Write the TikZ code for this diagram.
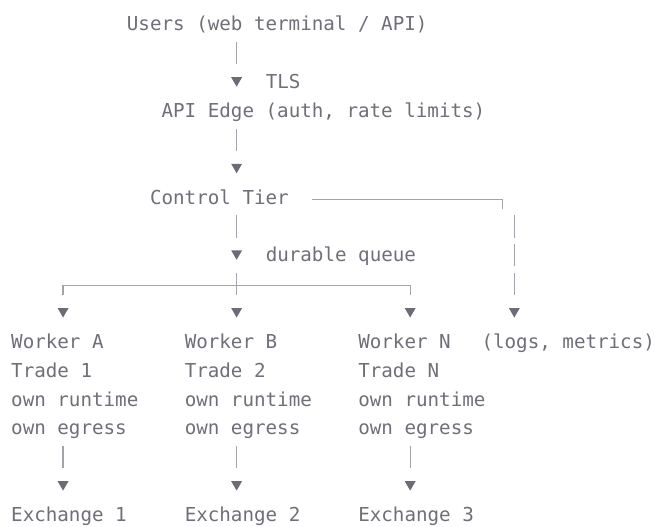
\documentclass[tikz,border=0pt]{standalone}
\usepackage{fontspec}
\setmonofont{DejaVu Sans Mono}
\usetikzlibrary{shapes.geometric}

\definecolor{inkgray}{HTML}{6E6F78}
\definecolor{wiregray}{HTML}{A3A4AB}
\definecolor{tipgray}{HTML}{6B6C74}

\tikzset{
  txt/.style={anchor=base west, inner sep=0pt, text=inkgray,
    font=\ttfamily\fontsize{19.2}{28.85}\selectfont},
  wire/.style={draw=wiregray, line width=1.2pt},
  tip/.style={regular polygon, regular polygon sides=3, shape border rotate=180,
    fill=tipgray, inner sep=0pt, minimum size=12.6pt, yshift=8.3pt},
}

\begin{document}
\begin{tikzpicture}[x=11.57pt, y=-28.85pt]
\useasboundingbox (-0.951,-1.0745) rectangle (55.66,17.19);

% top of the stack
\node[txt] (users) at (10,0) {Users (web terminal / API)};
\node[tip] (tedge) at (19.5,2) {};
\node[txt] (tls) at (22,2) {TLS};
\node[txt] (edge) at (13,3) {API Edge (auth, rate limits)};
\node[tip] (tctl) at (19.5,5) {};
\node[txt] (control) at (12,6) {Control Tier};
\node[tip] (tq) at (19.5,8) {};
\node[txt] (queue) at (22,8) {durable queue};

% fan out
\foreach \c/\n in {4.5/A, 19.5/B, 34.5/N, 43.5/L}
  \node[tip] (tw\n) at (\c,10) {};
\node[txt] (logs) at (40.65,11) {(logs, metrics)};

% one column per worker
\foreach \c/\k/\t/\e in {0/A/1/1, 15/B/2/2, 30/N/N/3} {
  \node[txt] (w\k) at (\c,11) {Worker \k};
  \node[txt] (tr\k) at (\c,12) {Trade \t};
  \node[txt] (rt\k) at (\c,13) {own runtime};
  \node[txt] (eg\k) at (\c,14) {own egress};
  \node[tip] (tx\k) at (\c+4.5,16) {};
  \node[txt] (ex\k) at (\c,17) {Exchange \e};
}

% stems
\foreach \c/\r in {19.5/1, 19.5/4, 19.5/7, 43.5/7, 43.5/8, 43.5/9,
                   4.5/15, 19.5/15, 34.5/15}
  \draw[wire] ([yshift=17.9pt]\c,\r) -- ([yshift=-4.6pt]\c,\r);

% side line to logs
\coordinate (side) at (42.5,6);
\draw[wire] ([yshift=5pt]26,6) -- ([yshift=5pt]side) -- ([yshift=-4.6pt]side);

% queue bus
\coordinate (busL) at (4.5,9);
\coordinate (busM) at (19.5,9);
\coordinate (busR) at (34.5,9);
\draw[wire] ([yshift=-4.6pt]busL) -- ([yshift=5pt]busL)
  -- ([yshift=5pt]busR) -- ([yshift=-4.6pt]busR);
\draw[wire] ([yshift=17.9pt]busM) -- ([yshift=-4.6pt]busM);

\end{tikzpicture}
\end{document}
